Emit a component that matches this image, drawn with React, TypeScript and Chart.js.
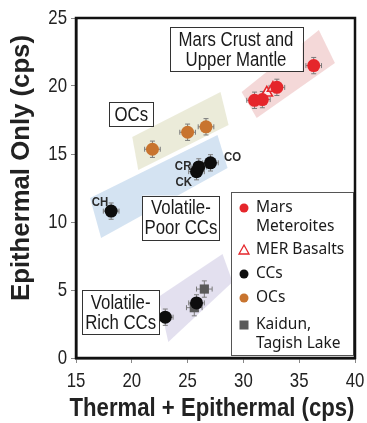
import React, { useEffect, useRef } from "react";
import { Chart, registerables } from "chart.js";

Chart.register(...registerables);

// ---- data ----
const marsX = [31.0, 31.7, 33.0, 36.3];
const marsY = [18.95, 19.0, 19.9, 21.5];
const merX = [32.1, 32.65];
const merY = [19.5, 19.85];
const ccX = [18.15, 25.8, 26.0, 27.05, 23.0, 25.8];
const ccY = [10.8, 13.7, 14.05, 14.35, 3.0, 4.05];
const ocX = [21.85, 25.0, 26.65];
const ocY = [15.35, 16.6, 17.0];
const kaiX = [25.6, 26.5];
const kaiY = [3.7, 5.07];
const errX = 0.7;
const errY = 0.6;

const xTicks = [15, 20, 25, 30, 35, 40];
const yTicks = [0, 5, 10, 15, 20, 25];
const xTitle = "Thermal + Epithermal (cps)";
const yTitle = "Epithermal Only (cps)";

// shaded regions (data coordinates)
const regionMars = [[29.84, 19.56], [36.76, 24.12], [38.2, 21.69], [31.19, 17.65]];
const regionOC = [[20.04, 16.25], [27.95, 19.56], [28.67, 17.13], [20.58, 13.82]];
const regionPoor = [[16.26, 11.76], [27.68, 16.4], [28.58, 13.97], [17.25, 8.82]];
const regionRich = [[22.37, 4.49], [28.13, 7.65], [29.03, 5.59], [23.27, 1.18]];

const ccLabels = ["CH", "CR", "CK", "CO"];

const legendLabels = [["Mars", "Meteroites"], ["MER Basalts"], ["CCs"], ["OCs"], ["Kaidun,", "Tagish Lake"]];

const boxTexts = [["Mars Crust and", "Upper Mantle"], ["OCs"], ["Volatile-", "Poor CCs"], ["Volatile-", "Rich CCs"]];

const SANS = "'Liberation Sans', Arial, sans-serif";
const LEG = "'Noto Sans', 'Open Sans', sans-serif";

const RED = "#e5262b";
const ORANGE = "#c8742f";
const BLACK = "#0d0d0d";
const GRAY = "#5a5a5a";

const pts = (xs: number[], ys: number[]) => xs.map((x, i) => ({ x, y: ys[i] }));

function sText(ctx: any, text: string, x: number, y: number, font: string, sx: number, align: string, color: string) {
  ctx.save();
  ctx.font = font;
  ctx.fillStyle = color;
  ctx.textAlign = align;
  ctx.textBaseline = "middle";
  ctx.translate(x, y);
  ctx.scale(sx, 1);
  ctx.fillText(text, 0, 0);
  ctx.restore();
}

const decorPlugin = {
  id: "decor",
  beforeDatasetsDraw(chart: any) {
    const { ctx, scales } = chart;
    const xs = scales.x, ys = scales.y;
    const poly = (p: number[][], color: string) => {
      ctx.save();
      ctx.beginPath();
      p.forEach(([x, y], i) => {
        const px = xs.getPixelForValue(x), py = ys.getPixelForValue(y);
        if (i === 0) ctx.moveTo(px, py); else ctx.lineTo(px, py);
      });
      ctx.closePath();
      ctx.fillStyle = color;
      ctx.fill();
      ctx.restore();
    };
    poly(regionMars, "rgba(240,200,200,0.7)");
    poly(regionOC, "rgba(232,231,210,0.85)");
    poly(regionPoor, "rgba(205,222,240,0.85)");
    poly(regionRich, "rgba(222,219,236,0.85)");

    // error bars
    ctx.save();
    ctx.strokeStyle = "#7a7a7a";
    ctx.lineWidth = 1;
    const all = [pts(marsX, marsY), pts(ccX, ccY), pts(ocX, ocY), pts(kaiX, kaiY)];
    all.forEach((arr) =>
      arr.forEach((p) => {
        const cx = xs.getPixelForValue(p.x), cy = ys.getPixelForValue(p.y);
        const x0 = xs.getPixelForValue(p.x - errX), x1 = xs.getPixelForValue(p.x + errX);
        const y0 = ys.getPixelForValue(p.y - errY), y1 = ys.getPixelForValue(p.y + errY);
        ctx.beginPath();
        ctx.moveTo(x0, cy); ctx.lineTo(x1, cy);
        ctx.moveTo(x0, cy - 2.5); ctx.lineTo(x0, cy + 2.5);
        ctx.moveTo(x1, cy - 2.5); ctx.lineTo(x1, cy + 2.5);
        ctx.moveTo(cx, y0); ctx.lineTo(cx, y1);
        ctx.moveTo(cx - 2.5, y0); ctx.lineTo(cx + 2.5, y0);
        ctx.moveTo(cx - 2.5, y1); ctx.lineTo(cx + 2.5, y1);
        ctx.stroke();
      })
    );
    ctx.restore();
  },
  afterDatasetsDraw(chart: any) {
    const { ctx, scales, chartArea } = chart;
    const xs = scales.x, ys = scales.y;

    // CC labels
    const labelPos = [[17.16, 11.47], [24.6, 14.1], [24.65, 12.94], [29.03, 14.78]];
    ccLabels.forEach((t, i) => {
      sText(ctx, t, xs.getPixelForValue(labelPos[i][0]), ys.getPixelForValue(labelPos[i][1]), "bold 13px " + SANS, 0.88, "center", "#2a2a2a");
    });

    // text boxes
    const boxPos = [[29.34, 22.72], [19.95, 17.94], [24.4, 10.33], [19.0, 3.35]];
    const boxW = [133, 44, 77, 77];
    boxTexts.forEach((lines, i) => {
      const cx = xs.getPixelForValue(boxPos[i][0]);
      const cy = ys.getPixelForValue(boxPos[i][1]);
      const lh = 20;
      const h = lines.length * lh + 4;
      const w = boxW[i];
      ctx.save();
      ctx.fillStyle = "#fff";
      ctx.fillRect(cx - w / 2, cy - h / 2, w, h);
      ctx.strokeStyle = "#333";
      ctx.lineWidth = 1;
      ctx.strokeRect(Math.round(cx - w / 2) + 0.5, Math.round(cy - h / 2) + 0.5, w, h);
      ctx.restore();
      lines.forEach((l, j) => {
        sText(ctx, l, cx, cy - h / 2 + 2 + lh * (j + 0.5) + 1, "20px " + SANS, 0.84, "center", "#1a1a1a");
      });
    });

    // legend
    ctx.save();
    const lx0 = 231, ly0 = 192, lx1 = chartArea.right - 2, ly1 = chartArea.bottom - 3;
    ctx.fillStyle = "#fff";
    ctx.fillRect(lx0, ly0, lx1 - lx0, ly1 - ly0);
    ctx.strokeStyle = "#555";
    ctx.lineWidth = 1;
    ctx.strokeRect(lx0 + 0.5, ly0 + 0.5, lx1 - lx0, ly1 - ly0);
    ctx.font = "15.5px " + LEG;
    ctx.textBaseline = "middle";
    const rows = [208, 250, 274, 298, 325];
    const mx = 244, tx = 256;
    legendLabels.forEach((lines, i) => {
      const y = rows[i];
      lines.forEach((l, j) => {
        ctx.fillStyle = "#1a1a1a";
        ctx.fillText(l, tx, y + j * 18.5);
      });
      if (i === 0 || i === 2 || i === 3) {
        ctx.beginPath();
        ctx.arc(mx, y, 4.5, 0, Math.PI * 2);
        ctx.fillStyle = i === 0 ? RED : i === 2 ? BLACK : ORANGE;
        ctx.fill();
      } else if (i === 1) {
        ctx.beginPath();
        ctx.moveTo(mx, y - 5);
        ctx.lineTo(mx + 5, y + 4);
        ctx.lineTo(mx - 5, y + 4);
        ctx.closePath();
        ctx.strokeStyle = RED;
        ctx.lineWidth = 1.3;
        ctx.stroke();
      } else {
        ctx.fillStyle = GRAY;
        ctx.fillRect(mx - 4.5, y - 4.5, 9, 9);
      }
    });
    ctx.restore();
  },
  afterDraw(chart: any) {
    const { ctx, chartArea, scales } = chart;
    ctx.save();
    ctx.strokeStyle = "#111";
    ctx.lineWidth = 2.5;
    ctx.strokeRect(chartArea.left, chartArea.top, chartArea.right - chartArea.left, chartArea.bottom - chartArea.top);
    ctx.restore();
    // tick labels
    xTicks.forEach((v) => {
      sText(ctx, String(v), scales.x.getPixelForValue(v), chartArea.bottom + 23, "21px " + SANS, 0.8, "center", "#222");
    });
    yTicks.forEach((v) => {
      sText(ctx, String(v), chartArea.left - 9, scales.y.getPixelForValue(v), "21px " + SANS, 0.8, "right", "#222");
    });
    // axis titles
    ctx.save();
    ctx.font = "bold 25px " + SANS;
    const wx = ctx.measureText(xTitle).width;
    const wy = ctx.measureText(yTitle).width;
    ctx.restore();
    sText(ctx, xTitle, 212, 409, "bold 25px " + SANS, 285 / wx, "center", "#222");
    ctx.save();
    ctx.translate(22, 168);
    ctx.rotate(-Math.PI / 2);
    sText(ctx, yTitle, 0, 0, "bold 25px " + SANS, 266 / wy, "center", "#222");
    ctx.restore();
  },
};

export default function App() {
  const ref = useRef<HTMLCanvasElement | null>(null);
  useEffect(() => {
    if (!ref.current) return;
    const chart = new Chart(ref.current, {
      type: "scatter",
      data: {
        datasets: [
          { label: "Mars Meteroites", data: pts(marsX, marsY), pointStyle: "circle", pointRadius: 6.5, backgroundColor: RED, borderColor: RED, borderWidth: 0 },
          { label: "MER Basalts", data: pts(merX, merY), pointStyle: "triangle", pointRadius: 6.5, backgroundColor: "rgba(255,255,255,0.6)", borderColor: RED, borderWidth: 1.5 },
          { label: "CCs", data: pts(ccX, ccY), pointStyle: "circle", pointRadius: 6.5, backgroundColor: BLACK, borderColor: BLACK, borderWidth: 0 },
          { label: "OCs", data: pts(ocX, ocY), pointStyle: "circle", pointRadius: 6.5, backgroundColor: ORANGE, borderColor: ORANGE, borderWidth: 0 },
          { label: "Kaidun, Tagish Lake", data: pts(kaiX, kaiY), pointStyle: "rect", pointRadius: 6.5, backgroundColor: GRAY, borderColor: GRAY, borderWidth: 0 },
        ],
      },
      options: {
        animation: false,
        responsive: true,
        maintainAspectRatio: false,
        layout: { padding: { top: 18, right: 12, left: 0, bottom: 0 } },
        plugins: { legend: { display: false }, tooltip: { enabled: false } },
        scales: {
          x: {
            type: "linear",
            min: 15,
            max: 40,
            afterBuildTicks: (s: any) => { s.ticks = xTicks.map((v) => ({ value: v })); },
            afterFit: (s: any) => { s.height = 65; },
            ticks: { display: false },
            grid: { display: true, drawOnChartArea: false, drawTicks: true, tickLength: 5, color: "#888" },
            border: { display: true, color: "#111", width: 2.5 },
            title: { display: false },
          },
          y: {
            type: "linear",
            min: 0,
            max: 25,
            afterBuildTicks: (s: any) => { s.ticks = yTicks.map((v) => ({ value: v })); },
            afterFit: (s: any) => { s.width = 76; },
            ticks: { display: false },
            grid: { display: true, drawOnChartArea: false, drawTicks: true, tickLength: 5, color: "#888" },
            border: { display: true, color: "#111", width: 2.5 },
            title: { display: false },
          },
        },
      },
      plugins: [decorPlugin],
    });
    return () => chart.destroy();
  }, []);
  return (
    <div style={{ position: "absolute", left: 0, top: 0, width: 367, height: 423 }}>
      <canvas ref={ref} />
    </div>
  );
}
